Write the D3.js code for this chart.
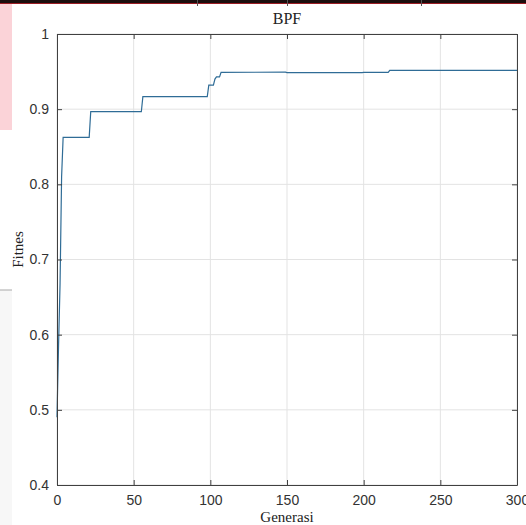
<!DOCTYPE html>
<html>
<head>
<meta charset="utf-8">
<script src="https://cdn.jsdelivr.net/npm/d3@7"></script>
<style>
  body { margin: 0; background: #fff; }
  svg { display: block; }
</style>
</head>
<body>
<div id="chart"></div>
<script>
// Best fitness per generation (line vertices)
var generations = [0, 1, 2, 3, 4, 21, 22, 55, 56, 98, 99, 102, 103, 104, 106, 107, 149, 150, 199, 200, 216, 217, 300];
var fitness = [0.49, 0.585, 0.668, 0.81, 0.8626, 0.8626, 0.8966, 0.8966, 0.9166, 0.9166, 0.932, 0.932, 0.940, 0.943, 0.943, 0.949, 0.9492, 0.9486, 0.9486, 0.9490, 0.9490, 0.9517, 0.9517];

var xTicks = [0, 50, 100, 150, 200, 250, 300];
var yTicks = [0.4, 0.5, 0.6, 0.7, 0.8, 0.9, 1];

var chartTitle = "BPF";
var xTitle = "Generasi";
var yTitle = "Fitnes";

var width = 526, height = 525;
var margin = { top: 34, right: 9, bottom: 40, left: 57 };
var plotW = width - margin.left - margin.right;
var plotH = height - margin.top - margin.bottom;

var svg = d3.select("#chart")
    .append("svg")
    .attr("width", width)
    .attr("height", height);

// screenshot leftovers around the figure
svg.append("rect").attr("x", 0).attr("y", 0).attr("width", width).attr("height", 3).attr("fill", "#1c0e0e");
svg.append("rect").attr("x", 0).attr("y", 3).attr("width", width).attr("height", 1).attr("fill", "#9b1c24");
[197, 287, 421].forEach(function(x) {
    svg.append("rect").attr("x", x).attr("y", 0).attr("width", 1).attr("height", 6).attr("fill", "#555");
});
svg.append("rect").attr("x", 0).attr("y", 4).attr("width", 12).attr("height", 126).attr("fill", "#fbd3d8");
svg.append("rect").attr("x", 0).attr("y", 290).attr("width", 12).attr("height", 235).attr("fill", "#f7f7f7");
svg.append("rect").attr("x", 0).attr("y", 289.5).attr("width", 12).attr("height", 1).attr("fill", "#aaa");

var chartGroup = svg.append("g")
    .attr("transform", `translate(${margin.left}, ${margin.top})`);

var xScale = d3.scaleLinear().domain([0, 300]).range([0, plotW]);
var yScale = d3.scaleLinear().domain([0.4, 1]).range([plotH, 0]);

// grid
chartGroup.append("g")
    .selectAll("line")
    .data(xTicks)
    .enter()
    .append("line")
    .attr("x1", d => xScale(d)).attr("x2", d => xScale(d))
    .attr("y1", 0).attr("y2", plotH)
    .attr("stroke", "#e3e3e3");

chartGroup.append("g")
    .selectAll("line")
    .data(yTicks)
    .enter()
    .append("line")
    .attr("x1", 0).attr("x2", plotW)
    .attr("y1", d => yScale(d)).attr("y2", d => yScale(d))
    .attr("stroke", "#e3e3e3");

// data line
var points = generations.map((g, i) => [g, fitness[i]]);
var line = d3.line()
    .x(d => xScale(d[0]))
    .y(d => yScale(d[1]));

chartGroup.append("path")
    .datum(points)
    .attr("fill", "none")
    .attr("stroke", "#2f6c96")
    .attr("stroke-width", 1.2)
    .attr("d", line);

// axes, ticks inside, box on
var tickLen = 5;
var axisColor = "#404040";

var bottomAxis = chartGroup.append("g")
    .attr("transform", `translate(0, ${plotH})`)
    .call(d3.axisBottom(xScale).tickValues(xTicks).tickSizeInner(-tickLen).tickSizeOuter(0).tickPadding(10));
var topAxis = chartGroup.append("g")
    .call(d3.axisTop(xScale).tickValues(xTicks).tickSizeInner(-tickLen).tickSizeOuter(0).tickFormat(""));
var leftAxis = chartGroup.append("g")
    .call(d3.axisLeft(yScale).tickValues(yTicks).tickSizeInner(-tickLen).tickSizeOuter(0).tickPadding(8).tickFormat(d3.format("")));
var rightAxis = chartGroup.append("g")
    .attr("transform", `translate(${plotW}, 0)`)
    .call(d3.axisRight(yScale).tickValues(yTicks).tickSizeInner(-tickLen).tickSizeOuter(0).tickFormat(""));

[bottomAxis, topAxis, leftAxis, rightAxis].forEach(function(a) {
    a.select(".domain").attr("stroke", axisColor);
    a.selectAll(".tick line").attr("stroke", axisColor);
    a.selectAll(".tick text")
        .attr("fill", "#333")
        .style("font-family", "'Liberation Sans', Arial, sans-serif")
        .style("font-size", "14px");
});

// titles
svg.append("text")
    .attr("x", margin.left + plotW / 2)
    .attr("y", 24)
    .attr("text-anchor", "middle")
    .style("font-family", "'Liberation Serif', 'Times New Roman', serif")
    .style("font-size", "16px")
    .attr("fill", "#222")
    .text(chartTitle);

svg.append("text")
    .attr("x", margin.left + plotW / 2)
    .attr("y", 522)
    .attr("text-anchor", "middle")
    .style("font-family", "'Liberation Serif', 'Times New Roman', serif")
    .style("font-size", "15px")
    .attr("fill", "#222")
    .text(xTitle);

svg.append("text")
    .attr("transform", `translate(23, ${margin.top + plotH / 2 - 10}) rotate(-90)`)
    .attr("text-anchor", "middle")
    .style("font-family", "'Liberation Serif', 'Times New Roman', serif")
    .style("font-size", "15px")
    .attr("fill", "#222")
    .text(yTitle);
</script>
</body>
</html>
